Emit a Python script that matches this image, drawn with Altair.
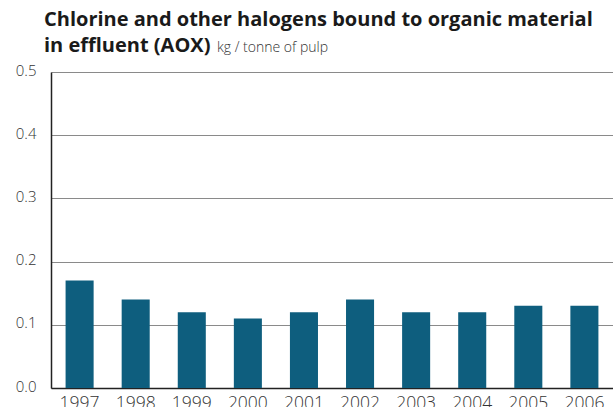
import altair as alt
import pandas as pd

years = ["1997", "1998", "1999", "2000", "2001", "2002", "2003", "2004", "2005", "2006"]
aox = [0.17, 0.14, 0.12, 0.11, 0.12, 0.14, 0.12, 0.12, 0.13, 0.13]
y_ticks = [0.0, 0.1, 0.2, 0.3, 0.4, 0.5]

title_lines = ["Chlorine and other halogens bound to organic material", "in effluent (AOX)"]
unit_label = "kg / tonne of pulp"

df = pd.DataFrame({"year": years, "aox": aox})

FONT = "Open Sans"

bars = alt.Chart(df).mark_bar(color="#0e5e7e").encode(
    x=alt.X(
        "year:N",
        sort=years,
        scale=alt.Scale(paddingInner=0.5, paddingOuter=0.26),
        axis=alt.Axis(
            title=None,
            ticks=False,
            labelAngle=0,
            labelFont=FONT,
            labelFontSize=17.5,
            labelFontWeight=300,
            labelColor="#333333",
            labelPadding=6,
            labelBaseline="top",
            domainColor="#222222",
            domainWidth=1.5,
        ),
    ),
    y=alt.Y(
        "aox:Q",
        scale=alt.Scale(domain=[0, 0.5], nice=False),
        axis=alt.Axis(
            title=None,
            values=y_ticks,
            format=".1f",
            ticks=False,
            labelFont=FONT,
            labelFontSize=15,
            labelFontWeight=300,
            labelColor="#333333",
            labelPadding=15,
            labelBaseline="middle",
            labelOffset=-2,
            labelFlush=False,
            domainColor="#222222",
            domainWidth=1.5,
            grid=True,
            gridColor="#8a8a8a",
            gridWidth=1,
        ),
    ),
)

# Two-line bold heading, with the unit in regular weight after the second line
heading_df = pd.DataFrame({"t": title_lines, "line": [0, 1]})
heading1 = alt.Chart(heading_df).transform_filter("datum.line == 0").mark_text(
    font=FONT, fontSize=20, fontWeight="bold", color="#1a1a1a", align="left", baseline="alphabetic"
).encode(x=alt.value(-7), y=alt.value(-46), text="t:N")
heading2 = alt.Chart(heading_df).transform_filter("datum.line == 1").mark_text(
    font=FONT, fontSize=20, fontWeight="bold", color="#1a1a1a", align="left", baseline="alphabetic"
).encode(x=alt.value(-7), y=alt.value(-20), text="t:N")

unit = alt.Chart(pd.DataFrame({"t": [unit_label]})).mark_text(
    font=FONT, fontSize=14, fontWeight=300, color="#333333", align="left", baseline="alphabetic"
).encode(
    x=alt.value(166),
    y=alt.value(-20),
    text="t:N",
)

chart = (
    alt.layer(bars, heading1, heading2, unit)
    .properties(
        width=562,
        height=316,
        autosize=alt.AutoSizeParams(type="none"),
        padding={"left": 51, "top": 72, "right": 0, "bottom": 19},
        background="white",
    )
    .configure_view(stroke=None)
)

chart.save("out.html", embed_options={"renderer": "svg", "actions": False})
